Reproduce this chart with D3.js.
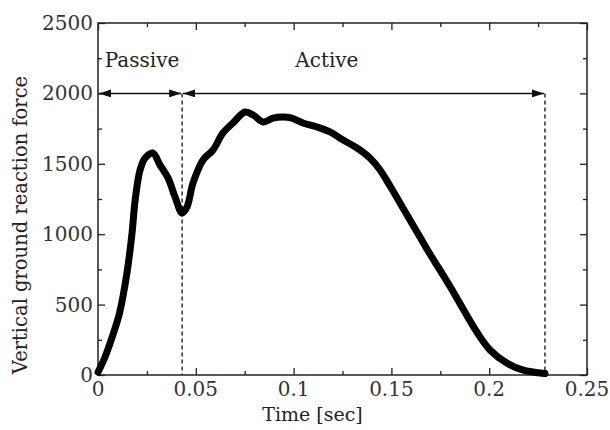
<!DOCTYPE html>
<html>
<head>
<meta charset="utf-8">
<script src="https://cdn.jsdelivr.net/npm/d3@7"></script>
<style>
  body { margin: 0; background: #fff; }
  text { font-family: "DejaVu Serif", "Liberation Serif", serif; }
</style>
</head>
<body>
<svg id="chart"></svg>
<script>
// time [sec] and vertical ground reaction force
let time = [0, 0.0036, 0.007, 0.011, 0.0148, 0.0174, 0.019, 0.0215, 0.024, 0.028, 0.0317,
    0.0358, 0.0394, 0.043, 0.0455, 0.0486, 0.0537, 0.0588, 0.0639, 0.069, 0.0752,
    0.0795, 0.0844, 0.0895, 0.0946, 0.099, 0.1048, 0.112, 0.1186, 0.1253, 0.1324,
    0.139, 0.1442, 0.1493, 0.1544, 0.1595, 0.1646, 0.1697, 0.1748, 0.18, 0.1866,
    0.1937, 0.2004, 0.209, 0.217, 0.2285];
let force = [20, 128, 260, 440, 724, 1008, 1243, 1456, 1540, 1577, 1491,
    1400, 1264, 1150, 1193, 1364, 1527, 1598, 1719, 1790, 1868,
    1845, 1797, 1825, 1832, 1825, 1790, 1761, 1726, 1669, 1612,
    1541, 1456, 1342, 1222, 1101, 980, 859, 746, 628, 470,
    305, 178, 85, 36, 10];

let xTicks = [0, 0.05, 0.1, 0.15, 0.2, 0.25];
let yTicks = [0, 500, 1000, 1500, 2000, 2500];
let phaseBounds = [0, 0.043, 0.2285];
let phaseNames = ['Passive', 'Active'];
let phaseLevel = 2000;

let margin = {top: 23, right: 23, bottom: 55, left: 98};
let width = 610 - margin.left - margin.right;
let height = 430 - margin.top - margin.bottom;

let root = d3.select('#chart')
    .attr('width', 610)
    .attr('height', 430);

let svg = root.append('g')
    .attr('transform', 'translate(' + margin.left + ',' + margin.top + ')');

let xScale = d3.scaleLinear().domain([0, 0.25]).range([0, width]);
let yScale = d3.scaleLinear().domain([0, 2500]).range([height, 0]);

let xMinor = d3.range(0.025, 0.25, 0.05);
let yMinor = d3.range(250, 2500, 500);

function styleAxis(g) {
    g.select('.domain').remove();
    g.selectAll('line').attr('stroke', '#222').attr('stroke-width', 1.3);
}

// inward ticks on all four sides
svg.append('g').attr('transform', 'translate(0,' + height + ')')
    .call(d3.axisTop(xScale).tickValues(xTicks).tickSize(7).tickFormat(''))
    .call(styleAxis);
svg.append('g').attr('transform', 'translate(0,' + height + ')')
    .call(d3.axisTop(xScale).tickValues(xMinor).tickSize(4).tickFormat(''))
    .call(styleAxis);
svg.append('g')
    .call(d3.axisBottom(xScale).tickValues(xTicks).tickSize(7).tickFormat(''))
    .call(styleAxis);
svg.append('g')
    .call(d3.axisBottom(xScale).tickValues(xMinor).tickSize(4).tickFormat(''))
    .call(styleAxis);
svg.append('g')
    .call(d3.axisRight(yScale).tickValues(yTicks).tickSize(7).tickFormat(''))
    .call(styleAxis);
svg.append('g')
    .call(d3.axisRight(yScale).tickValues(yMinor).tickSize(4).tickFormat(''))
    .call(styleAxis);
svg.append('g').attr('transform', 'translate(' + width + ',0)')
    .call(d3.axisLeft(yScale).tickValues(yTicks).tickSize(7).tickFormat(''))
    .call(styleAxis);
svg.append('g').attr('transform', 'translate(' + width + ',0)')
    .call(d3.axisLeft(yScale).tickValues(yMinor).tickSize(4).tickFormat(''))
    .call(styleAxis);

// tick labels
svg.selectAll('.xlab')
    .data(xTicks)
    .enter()
    .append('text')
    .attr('x', function (d) { return xScale(d); })
    .attr('y', height + 21)
    .attr('text-anchor', 'middle')
    .style('font-size', '20px')
    .style('fill', '#333')
    .text(function (d) { return d; });

svg.selectAll('.ylab')
    .data(yTicks)
    .enter()
    .append('text')
    .attr('x', -5)
    .attr('y', function (d) { return yScale(d) + 7; })
    .attr('text-anchor', 'end')
    .style('font-size', '20px')
    .style('fill', '#333')
    .text(function (d) { return d; });

// frame
svg.append('rect')
    .attr('width', width)
    .attr('height', height)
    .attr('fill', 'none')
    .attr('stroke', '#222')
    .attr('stroke-width', 1.5);

// dashed phase boundaries
svg.selectAll('.bound')
    .data(phaseBounds.slice(1))
    .enter()
    .append('line')
    .attr('x1', function (d) { return xScale(d); })
    .attr('x2', function (d) { return xScale(d); })
    .attr('y1', yScale(phaseLevel))
    .attr('y2', height)
    .attr('stroke', '#111')
    .attr('stroke-width', 1.3)
    .attr('stroke-dasharray', '4,3');

// arrow heads
let defs = root.append('defs');
defs.append('marker')
    .attr('id', 'arrow')
    .attr('viewBox', '0 0 12 8')
    .attr('refX', 12)
    .attr('refY', 4)
    .attr('markerWidth', 12)
    .attr('markerHeight', 8)
    .attr('markerUnits', 'userSpaceOnUse')
    .attr('orient', 'auto-start-reverse')
    .append('path')
    .attr('d', 'M0,0L12,4L0,8Z')
    .attr('fill', '#111');

// label anchors (time) for the phase names
let labelAt = [0.0225, 0.117];
let phases = phaseNames.map(function (name, i) {
    return {name: name, start: phaseBounds[i], end: phaseBounds[i + 1], label: labelAt[i]};
});

svg.selectAll('.span')
    .data(phases)
    .enter()
    .append('line')
    .attr('x1', function (d) { return xScale(d.start) + 1; })
    .attr('x2', function (d) { return xScale(d.end) - 1; })
    .attr('y1', yScale(phaseLevel))
    .attr('y2', yScale(phaseLevel))
    .attr('stroke', '#111')
    .attr('stroke-width', 1.5)
    .attr('marker-start', 'url(#arrow)')
    .attr('marker-end', 'url(#arrow)');

svg.selectAll('.pname')
    .data(phases)
    .enter()
    .append('text')
    .attr('x', function (d) { return xScale(d.label); })
    .attr('y', yScale(phaseLevel) - 26)
    .attr('text-anchor', 'middle')
    .style('font-size', '20px')
    .style('fill', '#222')
    .text(function (d) { return d.name; });

// force curve
let points = time.map(function (t, i) { return [t, force[i]]; });
let line = d3.line()
    .x(function (d) { return xScale(d[0]); })
    .y(function (d) { return yScale(d[1]); })
    .curve(d3.curveCatmullRom);

svg.append('path')
    .datum(points)
    .attr('d', line)
    .attr('fill', 'none')
    .attr('stroke', '#000')
    .attr('stroke-width', 7)
    .attr('stroke-linejoin', 'round')
    .attr('stroke-linecap', 'round');

// axis titles
svg.append('text')
    .attr('x', width / 2 - 30)
    .attr('y', height + 46)
    .attr('text-anchor', 'middle')
    .style('font-size', '19px')
    .style('fill', '#222')
    .text('Time [sec]');

svg.append('text')
    .attr('transform', 'translate(' + (-71) + ',' + (height / 2 + 26) + ') rotate(-90)')
    .attr('text-anchor', 'middle')
    .style('font-size', '19.5px')
    .style('fill', '#222')
    .text('Vertical ground reaction force');
</script>
</body>
</html>
